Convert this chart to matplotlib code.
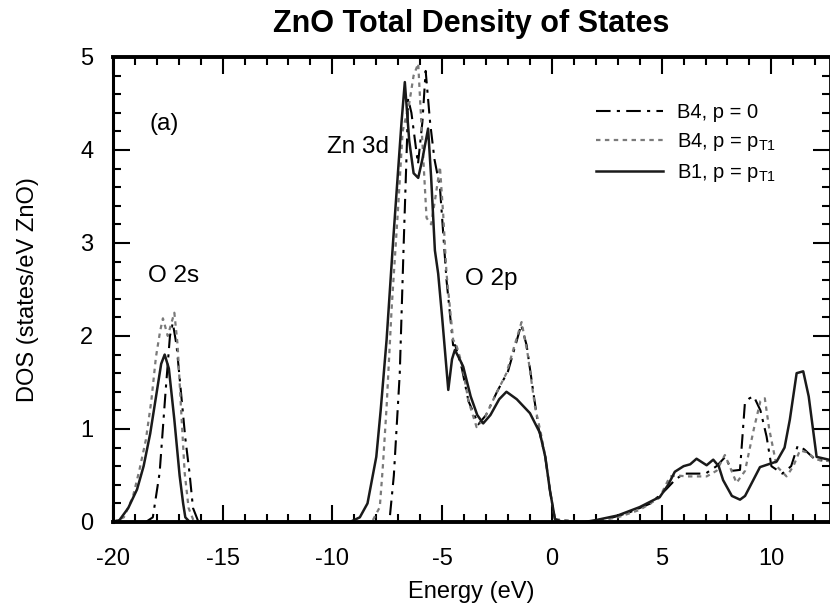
import numpy as np
import matplotlib
matplotlib.use('Agg')
import matplotlib.pyplot as plt
from matplotlib.ticker import MultipleLocator

plt.rcParams['font.family'] = ['Liberation Sans', 'DejaVu Sans']
plt.rcParams['mathtext.fontset'] = 'custom'
plt.rcParams['mathtext.rm'] = 'Liberation Sans'
plt.rcParams['mathtext.it'] = 'Liberation Sans:italic'
plt.rcParams['axes.unicode_minus'] = False

# B4 (wurtzite), p = 0
e_b4_0 = [-20.0, -18.5, -18.18, -17.87, -17.6, -17.4, -17.27, -17.1, -16.9, -16.7, -16.51, -16.35, -16.1,
          -7.5, -7.38, -7.2, -6.93, -6.75, -6.6, -6.55, -6.4, -6.1, -5.9, -5.75, -5.55, -5.35, -5.1, -4.8,
          -4.5, -4.4, -4.1, -3.8, -3.35, -3.0, -2.5, -2.0, -1.6, -1.4, -1.15, -0.85, -0.6, -0.3, -0.09, 0.14, 0.4,
          1.5, 2.5, 3.5, 4.5, 5.2, 5.6, 6.0, 6.5, 7.0, 7.5, 7.9, 8.2, 8.57, 8.79, 9.0, 9.2, 9.5, 9.78, 10.0,
          10.5, 10.9, 11.2, 11.5, 12.0, 12.8]
dos_b4_0 = [0.0, 0.0, 0.05, 0.53, 1.4, 2.0, 2.14, 1.9, 1.4, 0.9, 0.53, 0.15, 0.0,
            0.0, 0.06, 0.5, 1.6, 3.0, 4.1, 4.55, 4.4, 3.85, 4.3, 4.85, 4.3, 3.9, 3.6, 2.6,
            1.9, 1.9, 1.65, 1.3, 1.05, 1.15, 1.4, 1.62, 1.95, 2.12, 1.9, 1.4, 1.0, 0.7, 0.34, 0.03, 0.0,
            0.0, 0.03, 0.1, 0.2, 0.35, 0.45, 0.52, 0.52, 0.52, 0.6, 0.7, 0.55, 0.56, 1.27, 1.33, 1.35, 1.2, 0.92, 0.6,
            0.52, 0.6, 0.82, 0.78, 0.67, 0.65]

# B4 (wurtzite), p = pT1
e_b4_t = [-20.0, -19.5, -19.09, -18.8, -18.5, -18.25, -18.04, -17.85, -17.72, -17.5, -17.2, -17.05, -16.9,
          -16.73, -16.55, -16.3,
          -8.2, -7.84, -7.7, -7.53, -7.3, -7.0, -6.8, -6.5, -6.3, -6.09, -5.95, -5.71, -5.5, -5.3, -5.1,
          -4.95, -4.8, -4.5, -4.35, -4.1, -3.8, -3.43, -3.1, -2.6, -2.07, -1.7, -1.38, -1.1, -0.77, -0.5,
          -0.3, -0.09, 0.14, 1.5, 2.0, 3.0, 4.0, 4.9, 5.38, 5.7, 6.14, 7.05, 7.5, 7.88, 8.1, 8.41, 8.8,
          9.2, 9.5, 9.7, 9.9, 10.24, 10.69, 11.0, 11.3, 11.6, 12.06, 12.8]
dos_b4_t = [0.0, 0.05, 0.27, 0.55, 0.88, 1.3, 1.77, 2.05, 2.19, 2.0, 2.25, 1.9, 1.24,
            0.53, 0.15, 0.0,
            0.0, 0.16, 0.6, 1.24, 2.3, 3.4, 4.2, 4.5, 4.8, 4.93, 4.3, 3.27, 3.2, 3.5, 3.82,
            3.3, 2.67, 1.96, 1.9, 1.7, 1.3, 1.02, 1.1, 1.35, 1.6, 1.9, 2.15, 1.8, 1.24, 0.95,
            0.7, 0.34, 0.03, 0.0, 0.01, 0.05, 0.13, 0.26, 0.49, 0.5, 0.49, 0.49, 0.55, 0.72, 0.6, 0.42, 0.55,
            1.0, 1.3, 1.33, 1.0, 0.6, 0.49, 0.6, 0.77, 0.75, 0.67, 0.65]

# B1 (rocksalt), p = pT1
e_b1 = [-20.0, -19.7, -19.3, -18.9, -18.6, -18.3, -18.0, -17.8, -17.64, -17.45, -17.2, -16.96, -16.8,
        -16.7, -16.5,
        -9.2, -8.75, -8.4, -8.0, -7.8, -7.53, -7.23, -7.0, -6.85, -6.7, -6.5, -6.3, -6.09, -5.9, -5.64,
        -5.5, -5.33, -5.18, -5.0, -4.72, -4.55, -4.42, -4.2, -4.04, -3.7, -3.4, -3.13, -2.8, -2.4, -2.07,
        -1.6, -1.0, -0.55, -0.3, -0.09, 0.14, 0.5, 1.5, 2.0, 3.0, 4.0, 4.5, 4.92, 5.3, 5.6, 6.0, 6.3,
        6.59, 7.05, 7.35, 7.6, 7.8, 8.2, 8.57, 8.8, 9.02, 9.48, 10.24, 10.6, 10.84, 11.15, 11.45, 11.7,
        12.06, 12.8]
dos_b1 = [0.0, 0.02, 0.15, 0.35, 0.6, 0.95, 1.4, 1.7, 1.8, 1.65, 1.1, 0.5, 0.2,
          0.05, 0.0,
          0.0, 0.05, 0.2, 0.7, 1.2, 1.96, 3.03, 3.8, 4.3, 4.73, 4.1, 3.75, 3.7, 3.9, 4.23,
          3.7, 2.92, 2.67, 2.2, 1.42, 1.75, 1.85, 1.75, 1.67, 1.35, 1.15, 1.06, 1.15, 1.32, 1.4,
          1.32, 1.17, 0.96, 0.7, 0.34, 0.03, 0.0, 0.0, 0.02, 0.07, 0.16, 0.22, 0.27, 0.4, 0.54, 0.6, 0.62,
          0.68, 0.61, 0.67, 0.6, 0.45, 0.28, 0.24, 0.28, 0.38, 0.59, 0.65, 0.8, 1.1, 1.6, 1.62, 1.35,
          0.7, 0.66]

fig = plt.figure(figsize=(8.3, 6.1), dpi=100)
ax = fig.add_axes([0.136, 0.1443, 0.864, 0.7623])

ax.plot(e_b4_0, dos_b4_0, color='k', lw=1.5, ls=(0, (7, 3, 1.5, 3)), label='B4, p = 0')
ax.plot(e_b4_t, dos_b4_t, color='#7a7a7a', lw=1.6, ls=(0, (2, 2)), label=r'B4, p = p$_{\mathregular{T1}}$')
ax.plot(e_b1, dos_b1, color='#1a1a1a', lw=1.8, label=r'B1, p = p$_{\mathregular{T1}}$')

ax.set_xlim(-20, 12.67)
ax.set_ylim(0, 5)
ax.xaxis.set_major_locator(MultipleLocator(5))
ax.xaxis.set_minor_locator(MultipleLocator(1))
ax.yaxis.set_major_locator(MultipleLocator(1))
ax.yaxis.set_minor_locator(MultipleLocator(0.2))
ax.tick_params(which='both', direction='in', top=True, right=True, labelsize=17, width=1.5)
ax.tick_params(which='major', length=12)
ax.tick_params(which='minor', length=6)
ax.tick_params(axis='x', which='major', pad=19)
ax.tick_params(axis='y', which='major', pad=14)
for side, w in [('left', 2.2), ('bottom', 2.8), ('top', 2.8), ('right', 2.0)]:
    ax.spines[side].set_linewidth(w)

ax.set_title('ZnO Total Density of States', fontsize=22, fontweight='bold', pad=18)
ax.set_xlabel('Energy (eV)', fontsize=17, labelpad=8)
ax.set_ylabel('DOS (states/eV ZnO)', fontsize=17, labelpad=30)

ax.text(-18.31, 4.22, '(a)', fontsize=17.5)
ax.text(-10.25, 3.97, 'Zn 3d', fontsize=17.5)
ax.text(-18.41, 2.58, 'O 2s', fontsize=17.5)
ax.text(-3.96, 2.55, 'O 2p', fontsize=17.5)

leg = ax.legend(loc='upper left', bbox_to_anchor=(0.66, 0.923), frameon=False, fontsize=14.5,
                handlelength=3.3, handletextpad=0.7, labelspacing=0.45, borderpad=0)

fig.savefig('out.png', dpi=100)
